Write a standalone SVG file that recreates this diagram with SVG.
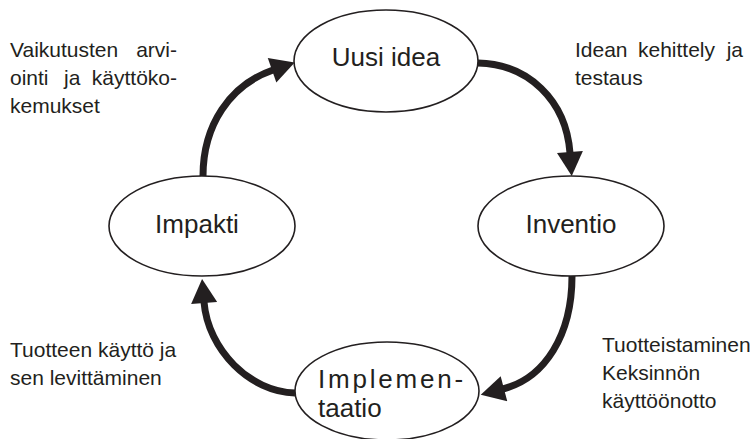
<svg xmlns="http://www.w3.org/2000/svg" width="753" height="439" viewBox="0 0 753 439">
  <style>
    .node ellipse { fill: #ffffff; stroke: #231f20; stroke-width: 1.6; }
    .label { font-family: "Liberation Sans", Arial, sans-serif; font-size: 26px; fill: #231f20; }
    .note { font-family: "Liberation Sans", Arial, sans-serif; font-size: 21px; fill: #231f20; }
    .flow { fill: none; stroke: #231f20; stroke-width: 7; stroke-linecap: butt; marker-end: url(#head); }
  </style>
  <defs>
    <marker id="head" markerUnits="userSpaceOnUse" markerWidth="26" markerHeight="26" viewBox="0 0 24 26" refX="1" refY="13" orient="auto">
      <path d="M0,0 L24,13 L0,26 Z" fill="#231f20"/>
    </marker>
  </defs>

  <rect width="753" height="439" fill="#ffffff"/>

  <!-- cycle connectors -->
  <g id="connectors">
    <path class="flow" d="M478,63 C528,64 566,100 570,153"/>
    <path class="flow" d="M572,276 C572,335 545,378 503,389"/>
    <path class="flow" d="M295,393 C250,392 208,350 204,302"/>
    <path class="flow" d="M203,176 C203,125 230,85 273,70"/>
  </g>

  <g id="uusi-idea" class="node">
    <ellipse cx="386" cy="61" rx="92" ry="51"/>
    <text class="label" x="386" y="66" text-anchor="middle">Uusi idea</text>
  </g>

  <g id="inventio" class="node">
    <ellipse cx="571" cy="226" rx="93" ry="50"/>
    <text class="label" x="571" y="233" text-anchor="middle">Inventio</text>
  </g>

  <g id="implementaatio" class="node">
    <ellipse cx="387" cy="391" rx="92" ry="49"/>
    <text class="label" x="318" y="388" letter-spacing="2.8">Implemen-</text>
    <text class="label" x="318" y="417">taatio</text>
  </g>

  <g id="impakti" class="node">
    <ellipse cx="202" cy="226" rx="93" ry="50"/>
    <text class="label" x="197" y="233" text-anchor="middle">Impakti</text>
  </g>

  <!-- side notes -->
  <g id="note-top-left">
    <text class="note" y="57"><tspan x="10">Vaikutusten</tspan><tspan x="177" text-anchor="end">arvi-</tspan></text>
    <text class="note" y="85"><tspan x="10">ointi</tspan><tspan x="64">ja</tspan><tspan x="177" text-anchor="end">käyttöko-</tspan></text>
    <text class="note" x="10" y="113">kemukset</text>
  </g>

  <g id="note-top-right">
    <text class="note" y="57"><tspan x="575">Idean</tspan><tspan x="638">kehittely</tspan><tspan x="743" text-anchor="end">ja</tspan></text>
    <text class="note" x="575" y="85">testaus</text>
  </g>

  <g id="note-bottom-left">
    <text class="note" x="10" y="357">Tuotteen käyttö ja</text>
    <text class="note" x="10" y="385">sen levittäminen</text>
  </g>

  <g id="note-bottom-right">
    <text class="note" x="602" y="352">Tuotteistaminen</text>
    <text class="note" x="602" y="380">Keksinnön</text>
    <text class="note" x="602" y="408">käyttöönotto</text>
  </g>
</svg>
